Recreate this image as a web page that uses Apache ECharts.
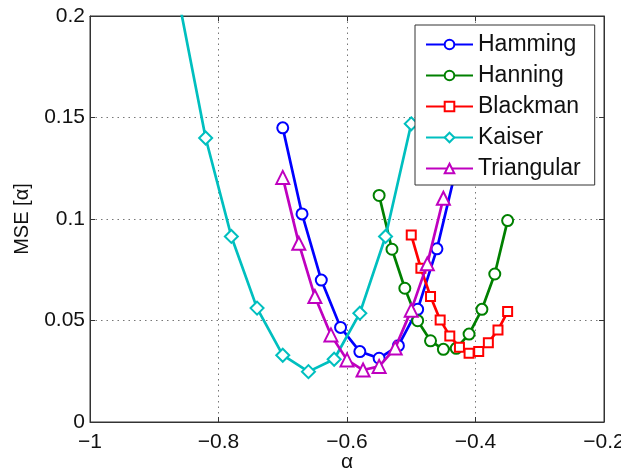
<!DOCTYPE html>
<html>
<head>
<meta charset="utf-8">
<script src="https://cdn.jsdelivr.net/npm/echarts@6/dist/echarts.min.js"></script>
<style>
html,body{margin:0;padding:0;background:#fff;}
#chart{width:621px;height:475px;}
</style>
</head>
<body>
<div id="chart"></div>
<script>
var seriesNames = ['Hamming', 'Hanning', 'Blackman', 'Kaiser', 'Triangular'];

var hammingX = [-0.70, -0.67, -0.64, -0.61, -0.58, -0.55, -0.52, -0.49, -0.46, -0.43, -0.40];
var hammingY = [0.1449, 0.1025, 0.0699, 0.0466, 0.0347, 0.0314, 0.0376, 0.0555, 0.0853, 0.125, 0.17];

var hanningX = [-0.55, -0.53, -0.51, -0.49, -0.47, -0.45, -0.43, -0.41, -0.39, -0.37, -0.35];
var hanningY = [0.1116, 0.0851, 0.0659, 0.0499, 0.0400, 0.0358, 0.0363, 0.0433, 0.0555, 0.0729, 0.0992];

var blackmanX = [-0.50, -0.485, -0.47, -0.455, -0.44, -0.425, -0.41, -0.395, -0.38, -0.365, -0.35];
var blackmanY = [0.0921, 0.0757, 0.0618, 0.0503, 0.0424, 0.0368, 0.0339, 0.0347, 0.0391, 0.0453, 0.0544];

var kaiserX = [-0.90, -0.86, -0.82, -0.78, -0.74, -0.70, -0.66, -0.62, -0.58, -0.54, -0.50];
var kaiserY = [0.27, 0.205, 0.1399, 0.0914, 0.0561, 0.0329, 0.0248, 0.0309, 0.0536, 0.0914, 0.1469];

var triangularX = [-0.70, -0.675, -0.65, -0.625, -0.60, -0.575, -0.55, -0.525, -0.50, -0.475, -0.45];
var triangularY = [0.1205, 0.088, 0.0618, 0.0429, 0.0306, 0.0256, 0.0274, 0.0364, 0.0551, 0.0779, 0.1102];

var xTicks = [-1, -0.8, -0.6, -0.4, -0.2];
var yTicks = [0, 0.05, 0.1, 0.15, 0.2];

function pairs(xs, ys) {
  return xs.map(function (x, i) { return [x, ys[i]]; });
}
function fmt(v) {
  var n = Number(Number(v).toFixed(3));
  return n < 0 ? '\u2212' + String(-n) : String(n);
}

var colors = ['#0000ff', '#008000', '#ff0000', '#00bfbf', '#bf00bf'];
var symbols = ['emptyCircle', 'emptyCircle', 'emptyRect', 'emptyDiamond', 'emptyTriangle'];
var sizes = [11, 11, 9, 13, 13];
var datasets = [
  pairs(hammingX, hammingY),
  pairs(hanningX, hanningY),
  pairs(blackmanX, blackmanY),
  pairs(kaiserX, kaiserY),
  pairs(triangularX, triangularY)
];

var font = '"Liberation Sans", Arial, Helvetica, sans-serif';

var chart = echarts.init(document.getElementById('chart'), null, { renderer: 'canvas' });
chart.setOption({
  animation: false,
  backgroundColor: '#fff',
  grid: {
    show: true, borderColor: '#333', borderWidth: 1, backgroundColor: 'transparent',
    left: 90, right: 17, top: 16, bottom: 53,
    containLabel: false,
    outerBoundsMode: 'none'
  },
  legend: {
    data: seriesNames,
    orient: 'vertical',
    left: 415,
    top: 25,
    padding: [8, 14, 5, 10],
    itemGap: 8,
    itemWidth: 47,
    itemHeight: 12,
    backgroundColor: '#fff',
    borderColor: '#333',
    borderWidth: 1,
    borderRadius: 0,
    textStyle: { fontFamily: font, fontSize: 23, lineHeight: 22, color: '#111' },
    z: 10
  },
  xAxis: [{
    type: 'value',
    min: xTicks[0],
    max: xTicks[xTicks.length - 1],
    interval: 0.2,
    name: '\u03b1',
    nameLocation: 'middle',
    nameGap: 30,
    nameMoveOverlap: false,
    nameTextStyle: { fontFamily: font, fontSize: 21, color: '#111' },
    axisLine: { show: true, onZero: false, lineStyle: { color: '#333', width: 1 } },
    axisTick: { show: true, inside: true, length: 5, lineStyle: { color: '#333' } },
    axisLabel: { formatter: fmt, fontFamily: font, fontSize: 21, color: '#111', margin: 10 },
    splitLine: { show: true, lineStyle: { color: '#777', type: [1.5, 4], width: 1 } }
  }, {
    type: 'value',
    position: 'top',
    min: xTicks[0],
    max: xTicks[xTicks.length - 1],
    interval: 0.2,
    axisLine: { show: true, onZero: false, lineStyle: { color: '#333', width: 1 } },
    axisTick: { show: true, inside: true, length: 5, lineStyle: { color: '#333' } },
    axisLabel: { show: false },
    splitLine: { show: false }
  }],
  yAxis: [{
    type: 'value',
    min: yTicks[0],
    max: yTicks[yTicks.length - 1],
    interval: 0.05,
    name: 'MSE [\u03b1]',
    nameLocation: 'middle',
    nameGap: 58,
    nameMoveOverlap: false,
    nameTextStyle: { fontFamily: font, fontSize: 20, color: '#111' },
    axisLine: { show: true, onZero: false, lineStyle: { color: '#333', width: 1 } },
    axisTick: { show: true, inside: true, length: 5, lineStyle: { color: '#333' } },
    axisLabel: { formatter: fmt, fontFamily: font, fontSize: 21, color: '#111', margin: 5 },
    splitLine: { show: true, lineStyle: { color: '#777', type: [1.5, 4], width: 1 } }
  }, {
    type: 'value',
    position: 'right',
    min: yTicks[0],
    max: yTicks[yTicks.length - 1],
    interval: 0.05,
    axisLine: { show: true, onZero: false, lineStyle: { color: '#333', width: 1 } },
    axisTick: { show: true, inside: true, length: 5, lineStyle: { color: '#333' } },
    axisLabel: { show: false },
    splitLine: { show: false }
  }],
  series: seriesNames.map(function (name, i) {
    return {
      name: name,
      type: 'line',
      xAxisIndex: 0,
      yAxisIndex: 0,
      data: datasets[i],
      clip: true,
      symbol: symbols[i],
      symbolSize: sizes[i],
      color: colors[i],
      lineStyle: { color: colors[i], width: 2.7 },
      itemStyle: { color: colors[i], borderColor: colors[i], borderWidth: 2.2 },
      emphasis: { disabled: true },
      z: 2 + i * 0.1
    };
  })
});
</script>
</body>
</html>
